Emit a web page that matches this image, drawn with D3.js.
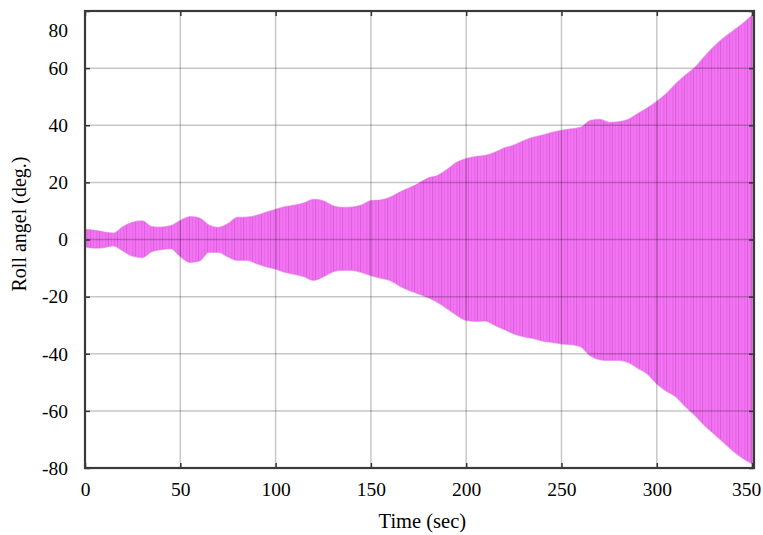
<!DOCTYPE html>
<html>
<head>
<meta charset="utf-8">
<script src="https://cdn.jsdelivr.net/npm/d3@7"></script>
<style>
  body{margin:0;background:#fff;}
  svg text{font-family:"Liberation Serif","Times New Roman",serif;fill:#000;}
</style>
</head>
<body>
<svg id="chart" width="763" height="535"></svg>
<script>
// envelope of the roll oscillation, every 5 s
var times=[0,5,10,15,20,25,30,35,40,45,50,55,60,65,70,75,80,85,90,95,
  100,105,110,115,120,125,130,135,140,145,150,155,160,165,170,175,180,185,190,195,
  200,205,210,215,220,225,230,235,240,245,250,255,260,265,270,275,280,285,290,295,
  300,305,310,315,320,325,330,335,340,345,350];
var upper=[3.5,3.2,2.6,2.2,4.5,6.0,6.5,4.5,4.3,4.8,6.6,8.0,7.5,5.0,4.2,5.5,7.7,7.8,8.4,9.5,
  10.5,11.5,12.0,12.8,14.0,13.5,11.8,11.2,11.3,12.0,13.6,13.8,14.7,16.5,18.0,19.6,21.5,22.4,24.5,27.0,
  28.3,29.0,29.4,30.5,32.0,33.0,34.5,35.7,36.5,37.5,38.2,38.7,39.2,41.6,42.0,41.0,41.2,42.0,44.0,46.0,
  48.3,51.0,54.5,57.5,60.2,64.0,67.5,70.5,73.0,75.5,78.5];
var lower=[-2.5,-3.0,-2.8,-2.2,-4.0,-5.8,-6.3,-4.2,-3.5,-3.2,-5.9,-8.0,-7.5,-4.5,-4.5,-6.0,-7.3,-7.3,-8.4,-9.5,
  -10.3,-11.5,-12.2,-13.0,-14.3,-13.0,-11.3,-10.8,-10.8,-11.5,-12.6,-13.5,-14.3,-16.2,-17.8,-19.0,-20.3,-22.0,-24.2,-26.5,
  -28.3,-28.6,-28.5,-30.0,-31.5,-33.0,-34.0,-34.6,-35.5,-36.0,-36.5,-36.8,-37.5,-40.6,-42.0,-42.3,-42.3,-43.0,-45.0,-47.0,
  -50.5,-53.0,-55.0,-58.5,-61.5,-65.0,-68.0,-71.0,-74.0,-76.5,-78.5];
var xTicks=[0,50,100,150,200,250,300,350];
var yTicks=[-80,-60,-40,-20,0,20,40,60,80];

var svg=d3.select('#chart');
var margin={left:85,top:11,right:9,bottom:67};
var W=763-margin.left-margin.right;
var H=535-margin.top-margin.bottom;

var x=d3.scaleLinear().domain([0,351]).range([margin.left,margin.left+W]);
var y=d3.scaleLinear().domain([-80,80]).range([margin.top+H,margin.top]);

// striped fill to look like the dense oscillation
var defs=svg.append('defs');
var pat=defs.append('pattern').attr('id','osc')
  .attr('patternUnits','userSpaceOnUse').attr('width',9).attr('height',10);
pat.append('rect').attr('width',9).attr('height',10).attr('fill','#f472f4');
pat.append('rect').attr('x',0).attr('width',1.1).attr('height',10).attr('fill','#b448b4').attr('opacity',0.42);
pat.append('rect').attr('x',3.2).attr('width',0.8).attr('height',10).attr('fill','#b448b4').attr('opacity',0.25);
pat.append('rect').attr('x',6.3).attr('width',1).attr('height',10).attr('fill','#b448b4').attr('opacity',0.33);

var env=times.map(function(t,i){return {t:t,hi:upper[i],lo:lower[i]};});

var area=d3.area()
  .x(function(d){return x(d.t);})
  .y0(function(d){return y(d.lo);})
  .y1(function(d){return y(d.hi);})
  .curve(d3.curveMonotoneX);

svg.append('path').datum(env)
  .attr('d',area)
  .attr('fill','url(#osc)')
  .attr('stroke','#e070e0')
  .attr('stroke-width',1.4)
  .attr('stroke-opacity',0.6);

// grid on top, like the original
var grid=svg.append('g');
grid.selectAll('.gx').data(xTicks).enter().append('line')
  .attr('x1',function(d){return x(d);}).attr('x2',function(d){return x(d);})
  .attr('y1',margin.top).attr('y2',margin.top+H)
  .attr('stroke','#000').attr('stroke-opacity',0.22).attr('stroke-width',1.5);
grid.selectAll('.gy').data(yTicks).enter().append('line')
  .attr('x1',margin.left).attr('x2',margin.left+W)
  .attr('y1',function(d){return y(d);}).attr('y2',function(d){return y(d);})
  .attr('stroke','#000').attr('stroke-opacity',0.22).attr('stroke-width',1.5);

// axes with inward ticks, plain hyphen minus like the original
var fmt=function(d){return String(d);};
var xAxis=d3.axisBottom(x).tickValues(xTicks).tickFormat(fmt).tickSizeInner(-5).tickSizeOuter(0).tickPadding(14);
var yAxis=d3.axisLeft(y).tickValues(yTicks).tickFormat(fmt).tickSizeInner(-5).tickSizeOuter(0).tickPadding(17);

var gx=svg.append('g').attr('transform','translate(0,'+(margin.top+H)+')').call(xAxis);
var gy=svg.append('g').attr('transform','translate('+margin.left+',0)').call(yAxis);
svg.append('g').attr('transform','translate(0,'+margin.top+')')
  .call(d3.axisTop(x).tickValues(xTicks).tickSizeInner(-5).tickSizeOuter(0).tickFormat(''));
svg.append('g').attr('transform','translate('+(margin.left+W)+',0)')
  .call(d3.axisRight(y).tickValues(yTicks).tickSizeInner(-5).tickSizeOuter(0).tickFormat(''));

svg.selectAll('g').attr('font-family',null);
svg.selectAll('.domain').remove();
svg.selectAll('.tick line').attr('stroke','#333').attr('stroke-width',1.5);
gx.selectAll('text').style('font-family','"Liberation Serif", serif').style('font-size','19.5px');
gy.selectAll('text').style('font-family','"Liberation Serif", serif').style('font-size','19.5px');
// the top label sits lower in the original, the last x label is pulled in a bit
gy.selectAll('.tick').filter(function(d){return d==80;}).select('text').attr('dy','1.3em');
gx.selectAll('.tick').filter(function(d){return d==350;}).select('text').attr('dx','-6');

svg.append('rect')
  .attr('x',margin.left).attr('y',margin.top).attr('width',W).attr('height',H)
  .attr('fill','none').attr('stroke','#3a3a3a').attr('stroke-width',2.2);

svg.append('text').attr('x',x(177)).attr('y',528)
  .attr('text-anchor','middle').style('font-size','20.5px').text('Time (sec)');
svg.append('text').attr('transform','translate(26,224) rotate(-90)')
  .attr('text-anchor','middle').style('font-size','20px').text('Roll angel (deg.)');
</script>
</body>
</html>
